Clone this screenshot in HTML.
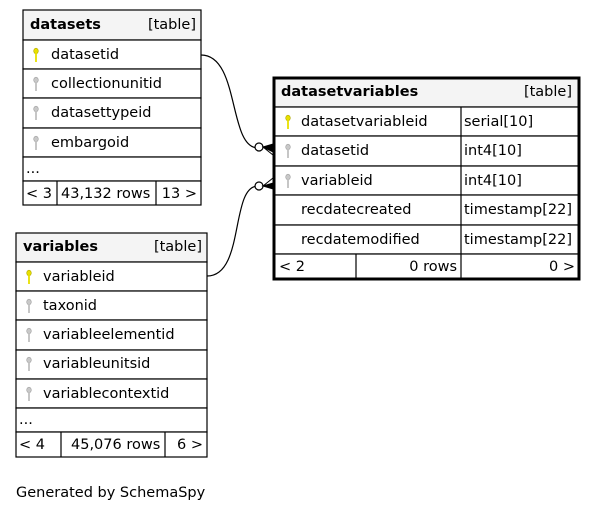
<!DOCTYPE html>
<html><head><meta charset="utf-8"><style>
html,body{margin:0;padding:0;background:#fff;}
svg{display:block;font-family:"DejaVu Sans","Liberation Sans",sans-serif;font-size:14.5px;}
</style></head><body>
<svg width="597" height="512" viewBox="0 0 597 512" xmlns="http://www.w3.org/2000/svg">
<defs>
<g id="ky"><ellipse cx="0" cy="-4" rx="2.3" ry="2.8" fill="#e8e000" stroke="#b0a800" stroke-width="0.6"/><rect x="-0.9" y="-2" width="1.8" height="9" fill="#e8e000"/></g>
<g id="kg"><ellipse cx="0" cy="-4" rx="2.3" ry="2.8" fill="#c8c8c8" stroke="#a0a0a0" stroke-width="0.6"/><rect x="-0.9" y="-2" width="1.8" height="9" fill="#c0c0c0"/></g>
</defs>
<path d="M201,55 C240,55 228,148 258,148" fill="none" stroke="#000" stroke-width="1.2"/>
<path d="M207,276 C245,276 230,186 258,186" fill="none" stroke="#000" stroke-width="1.2"/>
<circle cx="259" cy="147" r="4" fill="#fff" stroke="#000" stroke-width="1.2"/>
<circle cx="259" cy="186" r="4" fill="#fff" stroke="#000" stroke-width="1.2"/>
<path d="M263,147 L273,144 L273,152 Z M263,147 L273,155" fill="#000" stroke="#000" stroke-width="1"/>
<path d="M263,186 L273,183 L273,189 Z M263,186 L273,178" fill="#000" stroke="#000" stroke-width="1"/>

<g stroke="#000" stroke-width="1.2">
<rect x="23" y="10" width="178" height="30" fill="#f4f4f4"/>
<rect x="23" y="40" width="178" height="29" fill="#fff"/>
<rect x="23" y="69" width="178" height="29" fill="#fff"/>
<rect x="23" y="98" width="178" height="30" fill="#fff"/>
<rect x="23" y="128" width="178" height="29" fill="#fff"/>
<rect x="23" y="157" width="178" height="24" fill="#fff"/>
<rect x="23" y="181" width="178" height="24" fill="#fff"/>
<line x1="57" y1="181" x2="57" y2="205"/><line x1="156" y1="181" x2="156" y2="205"/>
</g>
<text x="30" y="29" font-weight="bold">datasets</text><text x="196" y="29" text-anchor="end">[table]</text>
<use href="#ky" x="36" y="55"/><text x="51" y="59">datasetid</text>
<use href="#kg" x="36" y="84"/><text x="51" y="88">collectionunitid</text>
<use href="#kg" x="36" y="113"/><text x="51" y="117">datasettypeid</text>
<use href="#kg" x="36" y="143"/><text x="51" y="147">embargoid</text>
<text x="26" y="173">...</text>
<text x="26" y="198">&lt; 3</text><text x="61" y="198">43,132 rows</text><text x="197" y="198" text-anchor="end">13 &gt;</text>

<g stroke="#000" stroke-width="1.2">
<rect x="16" y="233" width="191" height="29" fill="#f4f4f4"/>
<rect x="16" y="262" width="191" height="29" fill="#fff"/>
<rect x="16" y="291" width="191" height="29" fill="#fff"/>
<rect x="16" y="320" width="191" height="30" fill="#fff"/>
<rect x="16" y="350" width="191" height="29" fill="#fff"/>
<rect x="16" y="379" width="191" height="29" fill="#fff"/>
<rect x="16" y="408" width="191" height="24" fill="#fff"/>
<rect x="16" y="432" width="191" height="25" fill="#fff"/>
<line x1="61" y1="432" x2="61" y2="457"/><line x1="165" y1="432" x2="165" y2="457"/>
</g>
<text x="23" y="251" font-weight="bold">variables</text><text x="202" y="251" text-anchor="end">[table]</text>
<use href="#ky" x="29" y="277"/><text x="43" y="281">variableid</text>
<use href="#kg" x="29" y="306"/><text x="43" y="310">taxonid</text>
<use href="#kg" x="29" y="335"/><text x="43" y="339">variableelementid</text>
<use href="#kg" x="29" y="364"/><text x="43" y="368">variableunitsid</text>
<use href="#kg" x="29" y="394"/><text x="43" y="398">variablecontextid</text>
<text x="19" y="424">...</text>
<text x="19" y="449">&lt; 4</text><text x="71" y="449">45,076 rows</text><text x="203" y="449" text-anchor="end">6 &gt;</text>

<g stroke="#000" stroke-width="1.2">
<rect x="274" y="78" width="305" height="29" fill="#f4f4f4"/>
<rect x="274" y="107" width="305" height="29" fill="#fff"/>
<rect x="274" y="136" width="305" height="30" fill="#fff"/>
<rect x="274" y="166" width="305" height="29" fill="#fff"/>
<rect x="274" y="195" width="305" height="30" fill="#fff"/>
<rect x="274" y="225" width="305" height="29" fill="#fff"/>
<rect x="274" y="254" width="305" height="25" fill="#fff"/>
<line x1="461" y1="107" x2="461" y2="254"/>
<line x1="356" y1="254" x2="356" y2="279"/><line x1="461" y1="254" x2="461" y2="279"/>
</g>
<rect x="274" y="78" width="305" height="201" fill="none" stroke="#000" stroke-width="3"/>
<text x="281" y="96" font-weight="bold">datasetvariables</text><text x="572" y="96" text-anchor="end">[table]</text>
<use href="#ky" x="288" y="122"/><text x="301" y="126">datasetvariableid</text><text x="464" y="126">serial[10]</text>
<use href="#kg" x="288" y="151"/><text x="301" y="155">datasetid</text><text x="464" y="155">int4[10]</text>
<use href="#kg" x="288" y="181"/><text x="301" y="185">variableid</text><text x="464" y="185">int4[10]</text>
<text x="301" y="214">recdatecreated</text><text x="464" y="214">timestamp[22]</text>
<text x="301" y="244">recdatemodified</text><text x="464" y="244">timestamp[22]</text>
<text x="279" y="271">&lt; 2</text><text x="457" y="271" text-anchor="end">0 rows</text><text x="575" y="271" text-anchor="end">0 &gt;</text>

<text x="16" y="497">Generated by SchemaSpy</text>
</svg>
</body></html>
